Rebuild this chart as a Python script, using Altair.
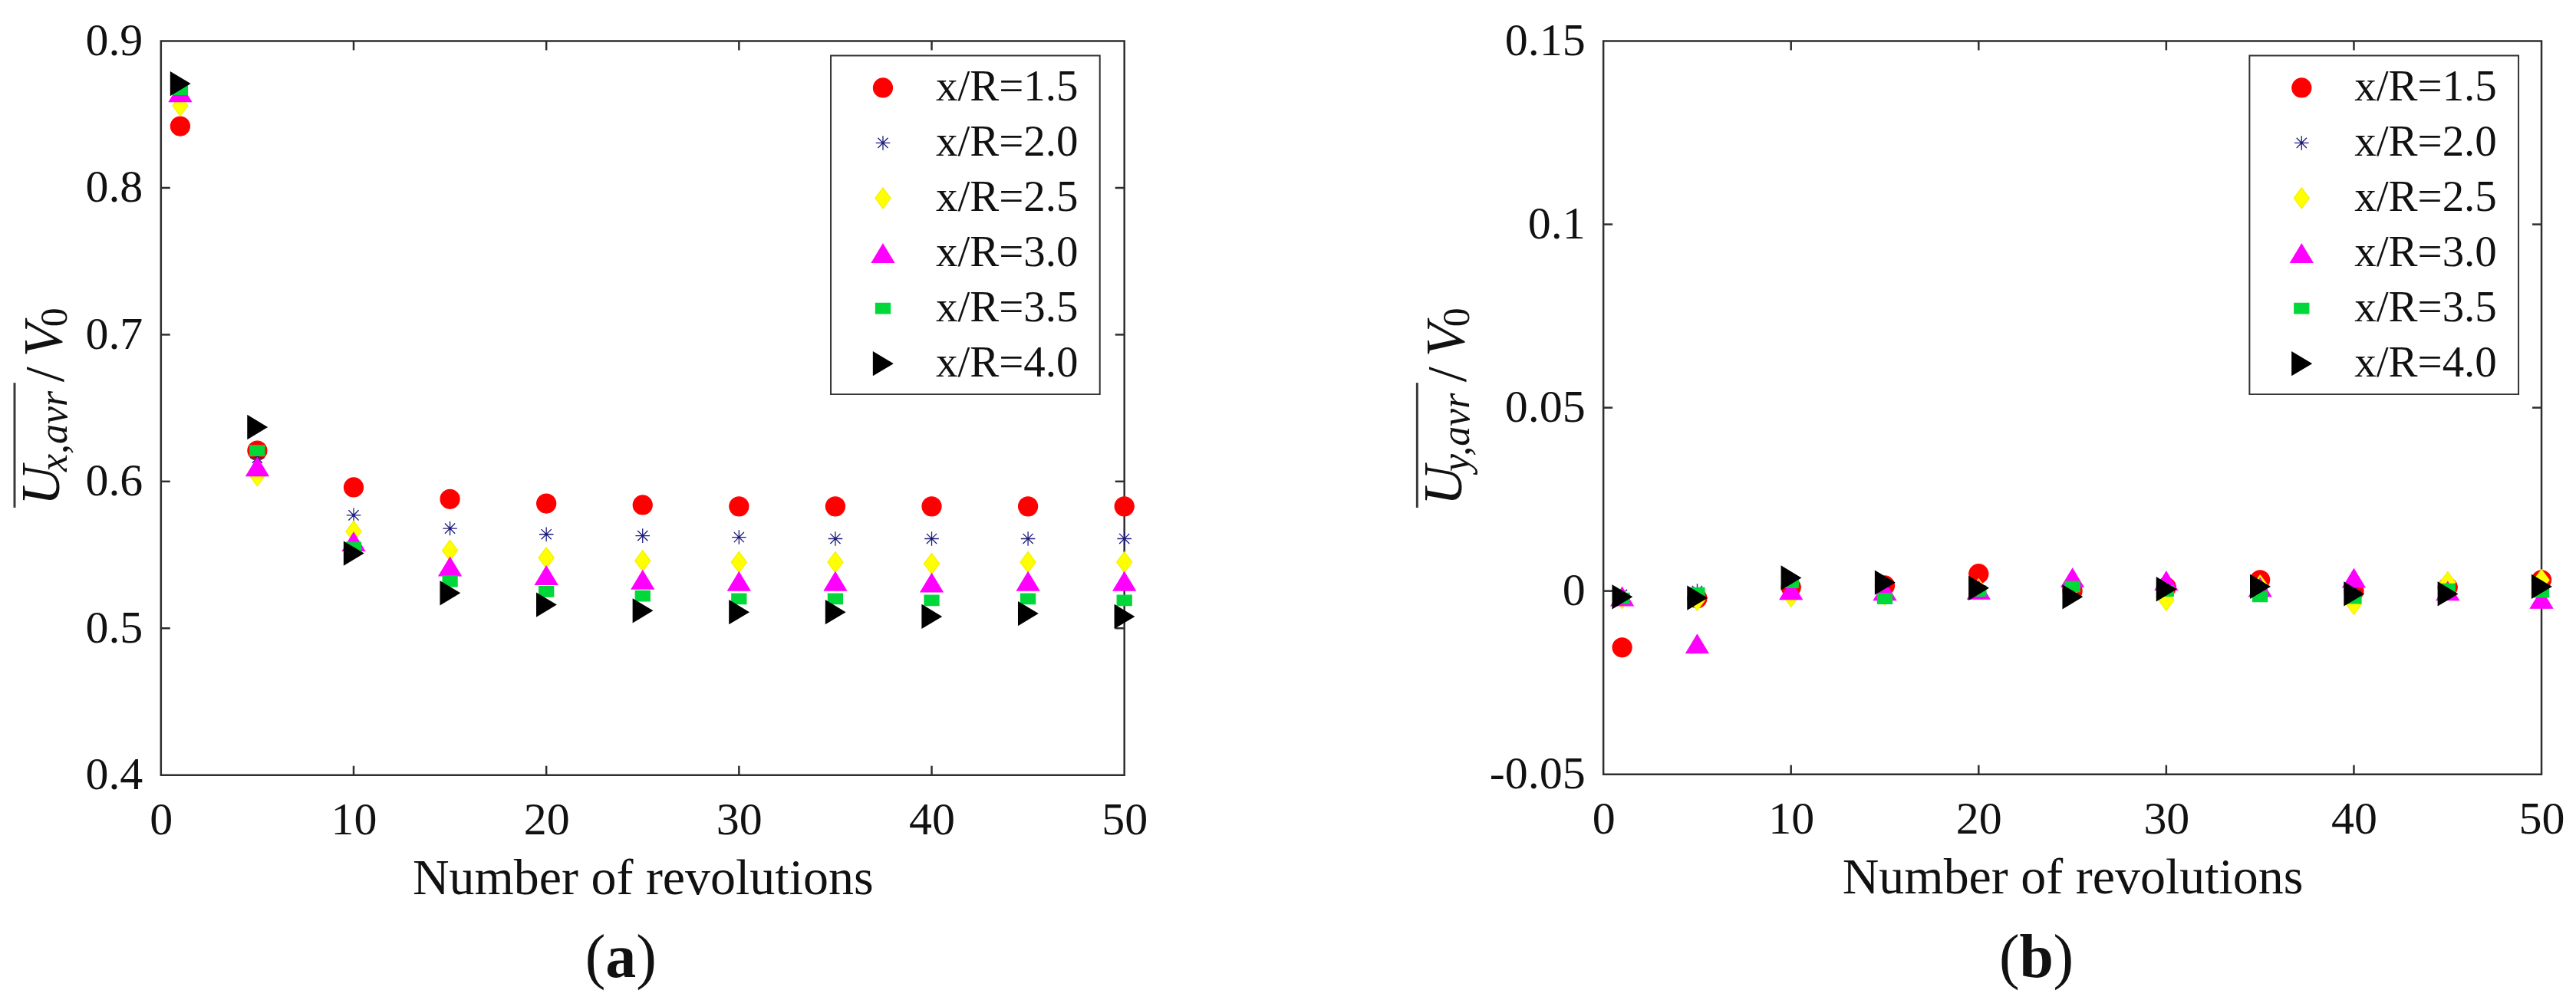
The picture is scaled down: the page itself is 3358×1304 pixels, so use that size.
import altair as alt
import pandas as pd

# ---------------- data ----------------
revolutions = [1, 5, 10, 15, 20, 25, 30, 35, 40, 45, 50]
series_labels = ["x/R=1.5", "x/R=2.0", "x/R=2.5", "x/R=3.0", "x/R=3.5", "x/R=4.0"]

# panel (a): streamwise mean velocity
ux_15 = [0.842, 0.621, 0.596, 0.588, 0.585, 0.584, 0.583, 0.583, 0.583, 0.583, 0.583]
ux_20 = [0.862, 0.616, 0.577, 0.568, 0.564, 0.563, 0.562, 0.561, 0.561, 0.561, 0.561]
ux_25 = [0.856, 0.604, 0.566, 0.553, 0.548, 0.546, 0.545, 0.545, 0.544, 0.545, 0.545]
ux_30 = [0.865, 0.610, 0.559, 0.542, 0.536, 0.533, 0.532, 0.532, 0.531, 0.532, 0.532]
ux_35 = [0.867, 0.621, 0.555, 0.532, 0.525, 0.522, 0.520, 0.520, 0.519, 0.520, 0.519]
ux_40 = [0.871, 0.637, 0.551, 0.524, 0.516, 0.512, 0.511, 0.511, 0.508, 0.510, 0.508]

# panel (b): lateral mean velocity
uy_15 = [-0.0154, -0.0020, 0.0010, 0.0015, 0.0047, 0.0000, 0.0010, 0.0030, 0.0000, 0.0010, 0.0030]
uy_20 = [-0.0010, 0.0000, 0.0010, 0.0000, 0.0000, 0.0005, 0.0020, 0.0010, 0.0000, 0.0010, 0.0010]
uy_25 = [-0.0020, -0.0025, -0.0015, -0.0010, 0.0005, 0.0010, -0.0025, 0.0015, -0.0036, 0.0024, 0.0030]
uy_30 = [-0.0015, -0.0144, 0.0002, 0.0000, 0.0003, 0.0036, 0.0028, 0.0010, 0.0035, 0.0000, -0.0022]
uy_35 = [-0.0020, -0.0005, 0.0023, -0.0021, 0.0000, 0.0012, 0.0000, -0.0015, -0.0020, 0.0005, -0.0003]
uy_40 = [-0.0016, -0.0019, 0.0036, 0.0023, 0.0008, -0.0016, 0.0005, 0.0012, -0.0008, -0.0008, 0.0012]

x_tick_values = [0, 10, 20, 30, 40, 50]
x_inner_ticks = [10, 20, 30, 40]
ya_tick_values = [0.4, 0.5, 0.6, 0.7, 0.8, 0.9]
ya_inner_ticks = [0.5, 0.6, 0.7, 0.8]
yb_tick_values = [-0.05, 0, 0.05, 0.1, 0.15]
yb_inner_ticks = [0, 0.05, 0.1]

# ---------------- styles ----------------
SERIF = "Liberation Serif"
INK = "#111111"
FRAME = "#2e2e2e"

marker_fill = ["#ff0000", "transparent", "#ffff00", "#ff00ff", "#00d83a", "#000000"]
marker_stroke = ["#ff0000", "#1c1c7c", "#f2f200", "#ff00ff", "#00d83a", "#000000"]
marker_shape = [
    "M0.833,0A0.833,0.833,0,1,1,-0.833,0A0.833,0.833,0,1,1,0.833,0Z",
    "M0,-0.62L0,0.62M-0.62,0L0.62,0M-0.44,-0.44L0.44,0.44M-0.44,0.44L0.44,-0.44",
    "M0,-0.9L0.667,0L0,0.9L-0.667,0Z",
    "M0,-0.8L0.967,0.8L-0.967,0.8Z",
    "M-0.633,-0.45L0.633,-0.45L0.633,0.45L-0.633,0.45Z",
    "M0.833,0L-0.833,-1L-0.833,1Z",
]


def long_frame(values_by_series):
    rows = []
    for lab, vals in zip(series_labels, values_by_series):
        for n, v in zip(revolutions, vals):
            rows.append({"n": n, "v": v, "series": lab})
    return pd.DataFrame(rows)


df_a = long_frame([ux_15, ux_20, ux_25, ux_30, ux_35, ux_40])
df_b = long_frame([uy_15, uy_20, uy_25, uy_30, uy_35, uy_40])
df_legend = pd.DataFrame({"series": series_labels})

one_row = alt.Data(values=[{}])

SHAPE = alt.Shape("series:N", scale=alt.Scale(domain=series_labels, range=marker_shape), legend=None)
FILL = alt.Fill("series:N", scale=alt.Scale(domain=series_labels, range=marker_fill), legend=None)
STROKE = alt.Stroke("series:N", scale=alt.Scale(domain=series_labels, range=marker_stroke), legend=None)


def text_piece(text, x, y, size, style="normal", weight="normal", angle=0,
               align="left", baseline="alphabetic"):
    return alt.Chart(one_row).mark_text(
        text=text, font=SERIF, fontSize=size, fontStyle=style, fontWeight=weight,
        angle=angle, align=align, baseline=baseline, color=INK,
    ).encode(x=alt.value(x), y=alt.value(y))


def legend_block(lx):
    row_y = alt.Y("series:N", axis=None,
                  scale=alt.Scale(type="point", domain=series_labels,
                                  range=[61, 421], padding=0))
    box = alt.Chart(one_row).mark_rect(fill="#ffffff", stroke="#333333",
                                       strokeWidth=2).encode(
        x=alt.value(lx), x2=alt.value(lx + 351), y=alt.value(19), y2=alt.value(461))
    syms = alt.Chart(df_legend).mark_point(opacity=1, fillOpacity=1, size=900,
                                           strokeWidth=1.3).encode(
        x=alt.value(lx + 68), y=row_y, shape=SHAPE, fill=FILL, stroke=STROKE)
    labs = alt.Chart(df_legend).mark_text(font=SERIF, fontSize=57, color=INK,
                                          align="left", baseline="middle").encode(
        x=alt.value(lx + 137), y=row_y, text="series:N")
    return alt.layer(box, syms, labs)


def panel(df, W, H, ydomain, ytick_values, yinner, ylabel_expr, legend_x,
          comp, title_dx, letter, letter_x, letter_half):
    xscale = alt.Scale(domain=[0, 50], nice=False, zero=False)
    yscale = alt.Scale(domain=ydomain, nice=False, zero=False)
    xaxis = alt.Axis(values=x_tick_values, ticks=False, domain=False, grid=False,
                     labelFont=SERIF, labelFontSize=60, labelColor=INK,
                     labelPadding=30, labelFlush=False, labelOverlap=False,
                     title="Number of revolutions", titleFont=SERIF,
                     titleFontSize=66, titleFontWeight="normal", titleColor=INK,
                     titlePadding=14)
    yaxis = alt.Axis(values=ytick_values, ticks=False, domain=False, grid=False,
                     labelFont=SERIF, labelFontSize=60, labelColor=INK,
                     labelPadding=24, labelFlush=False, labelOverlap=False,
                     labelExpr=ylabel_expr, title=None)
    X = alt.X("n:Q", scale=xscale, axis=xaxis)
    Y = alt.Y("v:Q", scale=yscale, axis=yaxis)

    pts = alt.Chart(df).mark_point(opacity=1, fillOpacity=1, size=900,
                                   strokeWidth=1.3).encode(
        x=X, y=Y, shape=SHAPE, fill=FILL, stroke=STROKE)

    xt = alt.Chart(pd.DataFrame({"n": x_inner_ticks})).mark_rule(color=FRAME, strokeWidth=2.5)
    tick_bottom = xt.encode(x=X, y=alt.value(H - 12), y2=alt.value(H))
    tick_top = xt.encode(x=X, y=alt.value(0), y2=alt.value(12))
    yt = alt.Chart(pd.DataFrame({"v": yinner})).mark_rule(color=FRAME, strokeWidth=2.5)
    tick_left = yt.encode(y=Y, x=alt.value(0), x2=alt.value(12))
    tick_right = yt.encode(y=Y, x=alt.value(W - 12), x2=alt.value(W))

    # y-axis title: overline(U_{x,avr}) / V_0, rotated
    d = title_dx
    overline = alt.Chart(one_row).mark_rule(color="#3a3a3a", strokeWidth=3).encode(
        x=alt.value(-191 + d), y=alt.value(446), y2=alt.value(609))
    t_u = text_piece("U", -133 + d, 606, 72, style="italic", angle=270)
    t_sub = text_piece(comp + ",avr", -123 + d, 562, 52, style="italic", angle=270)
    t_slash = text_piece("/", -128 + d, 445, 72, angle=270)
    t_v = text_piece("V", -130 + d, 412, 72, style="italic", angle=270)
    t_0 = text_piece("0", -123 + d, 373, 50, angle=270)

    # panel letter "(a)" / "(b)"
    l_open = text_piece("(", letter_x - letter_half, 1222, 80, align="right")
    l_mid = text_piece(letter, letter_x, 1222, 80, weight="bold", align="center")
    l_close = text_piece(")", letter_x + letter_half, 1222, 80, align="left")

    main = alt.layer(
        tick_bottom, tick_top, tick_left, tick_right, pts,
        overline, t_u, t_sub, t_slash, t_v, t_0, l_open, l_mid, l_close,
    )
    return alt.layer(main, legend_block(legend_x)).resolve_scale(
        y="independent").properties(width=W, height=H)


panel_a = panel(df_a, 1257, 958, [0.4, 0.9], ya_tick_values, ya_inner_ticks,
                "format(datum.value, '.1f')", 874, "x", 0, "a", 600, 20)
panel_b = panel(df_b, 1224, 957, [-0.05, 0.15], yb_tick_values, yb_inner_ticks,
                "datum.value < 0 ? '-' + format(-datum.value, '.2~f') : format(datum.value, '.2~f')",
                843, "y", -52, "b", 565, 22)

chart = alt.hconcat(panel_a, panel_b, spacing=347).resolve_scale(
    x="independent", y="independent",
).configure_view(
    stroke=FRAME, strokeWidth=2.5,
).properties(
    padding={"left": 8, "top": 13, "right": 5, "bottom": 5},
    background="white",
)

chart.save("out.html", embed_options={"renderer": "svg", "actions": False})
